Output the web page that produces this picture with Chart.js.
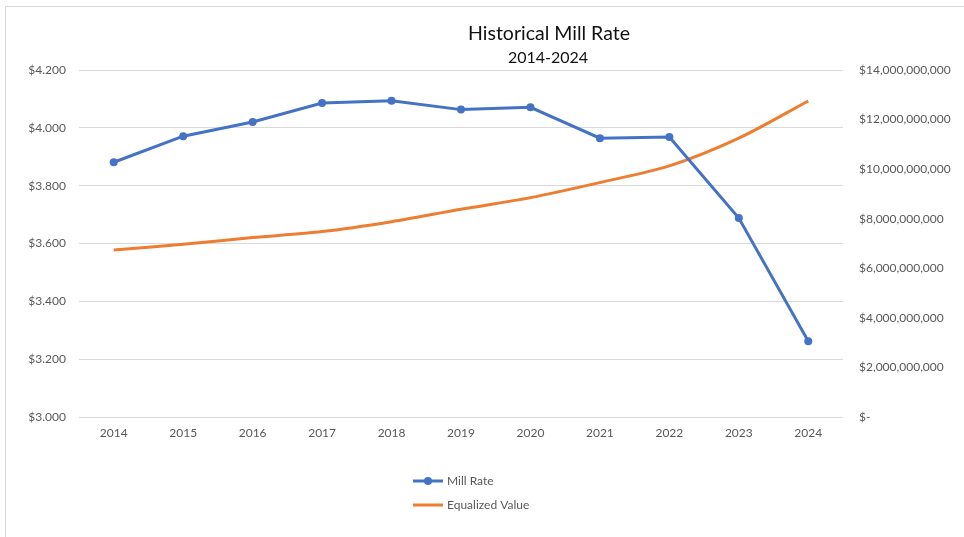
<!DOCTYPE html>
<html>
<head>
<meta charset="utf-8">
<title>Historical Mill Rate</title>
<script src="https://cdn.jsdelivr.net/npm/chart.js@4.4.1/dist/chart.umd.min.js"></script>
<style>
  html, body { margin: 0; padding: 0; background: #fff; }
  #wrap { position: relative; width: 964px; height: 537px; overflow: hidden; }
  #frame {
    position: absolute; left: 5px; top: 6px; width: 2000px; height: 2000px;
    border-left: 1px solid #d9d9d9; border-top: 1px solid #d9d9d9;
  }
  #millChart { position: absolute; left: 0; top: 0; }
</style>
</head>
<body>
<div id="wrap">
  <div id="frame"></div>
  <canvas id="millChart" width="964" height="537"></canvas>
</div>
<script>
// Mill rate history with the town's equalized value
var years = ['2014', '2015', '2016', '2017', '2018', '2019', '2020', '2021', '2022', '2023', '2024'];
var millRate = [3.881, 3.971, 4.020, 4.086, 4.094, 4.063, 4.071, 3.964, 3.968, 3.688, 3.262];
var equalizedValue = [6.74e9, 6.97e9, 7.24e9, 7.48e9, 7.88e9, 8.38e9, 8.85e9, 9.46e9, 10.13e9, 11.25e9, 12.75e9];

var rateTicks = [3.0, 3.2, 3.4, 3.6, 3.8, 4.0, 4.2];
var valueTicks = [0, 2e9, 4e9, 6e9, 8e9, 10e9, 12e9, 14e9];

var titleText = 'Historical Mill Rate';
var subtitleText = '2014-2024';

var blue = '#4472C4';
var orange = '#ED7D31';
var gridColor = '#d9d9d9';
var labelColor = '#595959';

Chart.defaults.font.family = 'Lato, "Liberation Sans", sans-serif';
Chart.defaults.font.size = 12;
Chart.defaults.color = labelColor;

function fmtRate(v) {
  return '$' + Number(v).toFixed(3);
}

function fmtValue(v) {
  if (v === 0) return '$-';
  return '$' + Number(v).toLocaleString('en-US');
}

function useTicks(list) {
  return function(scale) {
    scale.ticks = list.map(function(v) { return { value: v }; });
  };
}

// title and the stacked legend are painted straight onto the canvas
var headerAndKey = {
  id: 'headerAndKey',
  afterDraw: function(chart) {
    var ctx = chart.ctx;
    ctx.save();
    ctx.fillStyle = '#111';
    ctx.textAlign = 'center';
    ctx.textBaseline = 'middle';
    ctx.font = '19.5px Lato, sans-serif';
    ctx.fillText(titleText, 549, 34);
    ctx.font = '16px Lato, sans-serif';
    ctx.fillText(subtitleText, 548, 58);

    var x0 = 413, x1 = 443, y = 481;
    chart.data.datasets.forEach(function(ds) {
      ctx.strokeStyle = ds.borderColor;
      ctx.lineWidth = 3;
      ctx.beginPath();
      ctx.moveTo(x0, y);
      ctx.lineTo(x1, y);
      ctx.stroke();
      if (ds.pointRadius > 0) {
        ctx.fillStyle = ds.pointBackgroundColor;
        ctx.beginPath();
        ctx.arc((x0 + x1) / 2, y, 4, 0, Math.PI * 2);
        ctx.fill();
      }
      ctx.fillStyle = labelColor;
      ctx.textAlign = 'left';
      ctx.font = '12px Lato, sans-serif';
      ctx.fillText(ds.label, 447, y);
      y += 24;
    });
    ctx.restore();
  }
};

var chart = new Chart(document.getElementById('millChart'), {
  type: 'line',
  data: {
    labels: years,
    datasets: [{
      label: 'Mill Rate',
      data: millRate,
      yAxisID: 'y',
      borderColor: blue,
      backgroundColor: blue,
      borderWidth: 3,
      pointRadius: 4,
      pointBackgroundColor: blue,
      pointBorderColor: blue,
      pointBorderWidth: 0,
      tension: 0
    }, {
      label: 'Equalized Value',
      data: equalizedValue,
      yAxisID: 'y1',
      borderColor: orange,
      backgroundColor: orange,
      borderWidth: 3,
      pointRadius: 0,
      pointBackgroundColor: orange,
      tension: 0.3
    }]
  },
  options: {
    responsive: false,
    animation: false,
    layout: { padding: { top: 70, left: 0, right: 0, bottom: 0 } },
    plugins: {
      legend: { display: false },
      title: { display: false },
      tooltip: { enabled: false }
    },
    scales: {
      x: {
        offset: true,
        grid: { display: false, drawTicks: false },
        border: { display: false },
        ticks: { padding: 9, maxRotation: 0 },
        afterFit: function(scale) { scale.height = 120; }
      },
      y: {
        position: 'left',
        min: 3.0,
        max: 4.2,
        afterBuildTicks: useTicks(rateTicks),
        grid: { color: gridColor, lineWidth: 1, drawTicks: false },
        border: { display: false },
        ticks: { padding: 13, callback: fmtRate },
        afterFit: function(scale) { scale.width = 79; }
      },
      y1: {
        position: 'right',
        min: 0,
        max: 14e9,
        afterBuildTicks: useTicks(valueTicks),
        grid: { display: false, drawTicks: false },
        border: { display: false },
        ticks: { padding: 16, callback: fmtValue },
        afterFit: function(scale) { scale.width = 121; }
      }
    }
  },
  plugins: [headerAndKey]
});
</script>
</body>
</html>
